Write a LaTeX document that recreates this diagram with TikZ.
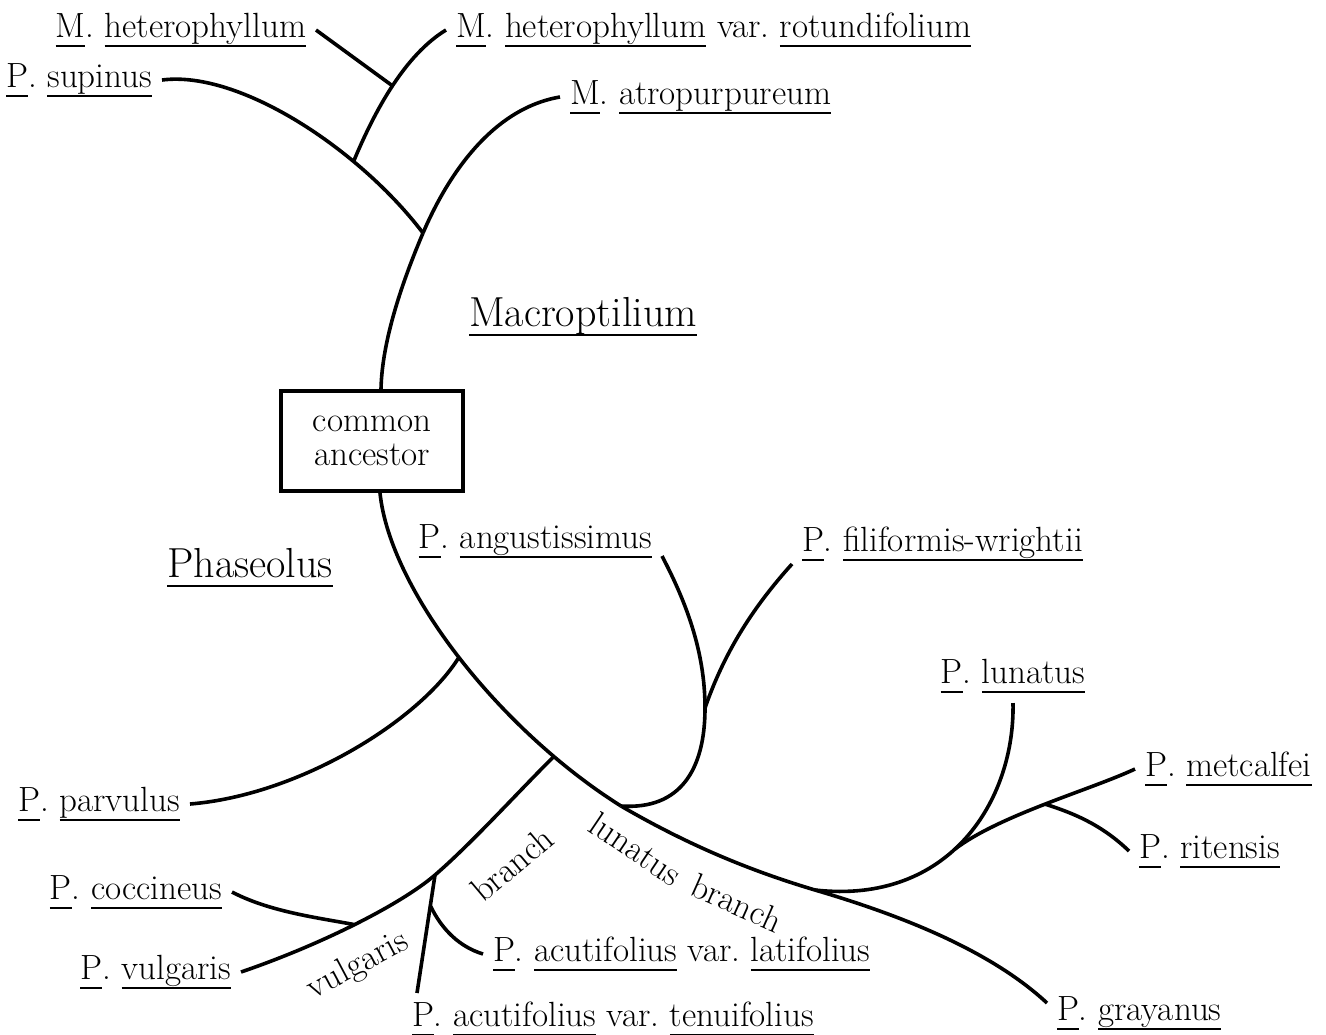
\documentclass[tikz,border=0pt]{standalone}
\usepackage{tikz}
\newcommand{\souligne}[1]{\setbox0\hbox{#1}\rlap{\rule[-4.6pt]{\wd0}{0.9pt}}\box0\relax}
\newcommand{\espece}[2]{\souligne{#1}. \souligne{#2}}
\newcommand{\petit}[0]{\fontsize{17.5}{17}\selectfont\frenchspacing}
\newcommand{\grand}[0]{\fontsize{21}{24}\selectfont}
\tikzset{nom/.style={inner sep=3pt, outer sep=2pt, font=\petit},
	groupe/.style={inner sep=0pt, font=\grand},
	tige/.style={line width=1.8pt}}

\begin{document}
\begin{tikzpicture}[x=0.5pt, y=-0.5pt]
	\useasboundingbox (0,0) rectangle (1326,1034);
%Junctions
	\coordinate (mj) at (423,233);
	\coordinate (aj) at (621,806);
	\coordinate (fj) at (705,708);
	\coordinate (gj) at (815,890);
	\coordinate (tj) at (435,875);
	\coordinate (t-bout) at (417,993);
%The ancestor and the two genera
	\node[draw, line width=2pt, minimum width=91pt, minimum height=50pt,
		align=center, font=\petit] (anc) at (372,441) {common\\ancestor};
	\node[groupe] (mac) at (583,317) {\souligne{Macroptilium}};
	\node[groupe] (pha) at (250,568) {\souligne{Phaseolus}};
%Species
	\node[nom, anchor=east] (het) at (316,30) {\espece{M}{heterophyllum}};
	\node[nom, anchor=west] (rot) at (446,30) {\espece{M}{heterophyllum} var. \souligne{rotundifolium}};
	\node[nom, anchor=east] (sup) at (162,80) {\espece{P}{supinus}};
	\node[nom, anchor=west] (atro) at (560,97) {\espece{M}{atropurpureum}};
	\node[nom, anchor=east] (angu) at (662,541) {\espece{P}{angustissimus}};
	\node[nom, anchor=west] (fili) at (792,544) {\espece{P}{filiformis-wrightii}};
	\node[nom, anchor=south] (lun) at (1013,703) {\espece{P}{lunatus}};
	\node[nom, anchor=west] (metc) at (1135,769) {\espece{P}{metcalfei}};
	\node[nom, anchor=west] (rit) at (1129,851) {\espece{P}{ritensis}};
	\node[nom, anchor=west] (gray) at (1047,1013) {\espece{P}{grayanus}};
	\node[nom, anchor=west] (lat) at (483,954) {\espece{P}{acutifolius} var. \souligne{latifolius}};
	\node[nom, anchor=west] (ten) at (402,1019) {\espece{P}{acutifolius} var. \souligne{tenuifolius}};
	\node[nom, anchor=east] (parv) at (190,804) {\espece{P}{parvulus}};
	\node[nom, anchor=east] (cocc) at (232,892) {\espece{P}{coccineus}};
	\node[nom, anchor=east] (vulg) at (241,972) {\espece{P}{vulgaris}};
%Branch names
	\node[font=\petit, rotate=-34] (tlun) at (636,849) {lunatus};
	\node[font=\petit, rotate=-24] (tlunb) at (737,903) {branch};
	\node[font=\petit, rotate=28] (tvul) at (358,966) {vulgaris};
	\node[font=\petit, rotate=40] (tvulb) at (512,864) {branch};
%Macroptilium side
	\draw[tige] (sup.east) .. controls (240,70) and (360,150) .. (mj) coordinate[pos=0.7] (sj);
	\draw[tige] (sj) .. controls (375,110) and (405,55) .. (rot.west) coordinate[pos=0.5] (hj);
	\draw[tige] (het.east) -- (hj);
	\draw[tige] (mj) .. controls (450,170) and (495,108) .. (atro.west);
	\draw[tige] ([xshift=4.5pt]anc.north) .. controls (382,340) and (403,280) .. (mj);
%Phaseolus side
	\draw[tige] ([xshift=4pt]anc.south) .. controls (390,590) and (500,730) .. (aj)
		coordinate[pos=0.5] (pj) coordinate[pos=0.81] (vj);
	\draw[tige] (aj) .. controls (700,852) and (765,875) .. (gj)
		.. controls (900,915) and (990,950) .. ([yshift=5pt]gray.west);
	\draw[tige] (pj) .. controls (420,720) and (300,795) .. (parv.east);
%the lunatus branch
	\draw[tige] (gj) .. controls (950,905) and (1015,800) .. (lun.south) coordinate[pos=0.45] (uj);
	\draw[tige] (uj) .. controls (1000,815) and (1090,790) .. (metc.west) coordinate[pos=0.5] (mrj);
	\draw[tige] (mrj) .. controls (1080,815) and (1105,828) .. (rit.west);
	\draw[tige] (aj) .. controls (680,810) and (705,770) .. (fj)
		.. controls (705,650) and (685,600) .. ([yshift=-7.5pt]angu.east);
	\draw[tige] (fj) .. controls (725,650) and (755,605) .. ([yshift=-10pt]fili.west);
%the vulgaris branch
	\draw[tige] (vj) .. controls (520,790) and (472,843) .. (tj)
		.. controls (400,905) and (320,945) .. (vulg.east) coordinate[pos=0.5] (cj);
	\draw[tige] (cocc.east) .. controls (270,912) and (320,918) .. (cj);
	\draw[tige] (tj) -- (t-bout) coordinate[pos=0.26] (lj);
	\draw[tige] (lj) .. controls (442,930) and (460,947) .. (lat.west);
\end{tikzpicture}
\end{document}
